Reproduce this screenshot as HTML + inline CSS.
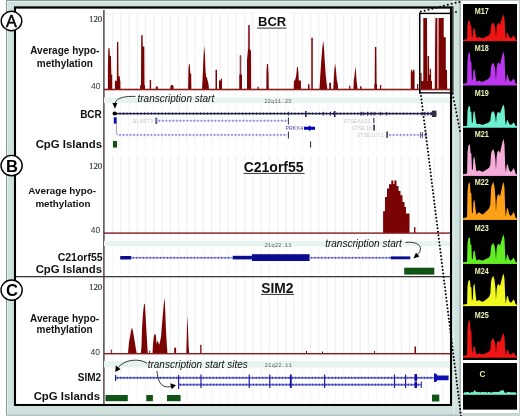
<!DOCTYPE html>
<html><head><meta charset="utf-8">
<style>
html,body{margin:0;padding:0;background:#fff;width:520px;height:416px;overflow:hidden;}
svg{display:block;filter:blur(0.35px);}
text{font-family:"Liberation Sans",sans-serif;}
.b{font-weight:bold;}
.ser{font-family:"Liberation Serif",serif;}
.mono{font-family:"Liberation Mono",monospace;}
</style></head><body>
<svg width="520" height="416" viewBox="0 0 520 416" shape-rendering="geometricPrecision">

<rect x="6" y="0" width="456" height="416" fill="#cfe1dd"/>
<rect x="6" y="0" width="1" height="416" fill="#8a9a98"/>
<rect x="6" y="0" width="456" height="1" fill="#8a9a98"/>
<rect x="7" y="1" width="455" height="1" fill="#e2f0ee"/>
<rect x="7" y="1" width="1" height="415" fill="#e2f0ee"/>
<rect x="459.2" y="0" width="1.8" height="416" fill="#a9b8b5"/>
<rect x="453.5" y="0" width="1" height="416" fill="#e2f0ec"/>
<rect x="6" y="414.4" width="456" height="1.6" fill="#b2c4c1"/>
<rect x="7" y="406" width="452" height="1" fill="#dcebe8"/>
<rect x="461" y="0" width="59" height="416" fill="#ffffff"/>
<rect x="461" y="0" width="59" height="1" fill="#b8c8c6"/>
<rect x="519" y="0" width="1" height="416" fill="#b8c8c6"/>
<rect x="461" y="413" width="59" height="3" fill="#c8d6d4"/>
<rect x="463" y="4" width="54" height="356" fill="#000"/>
<rect x="463" y="363" width="54" height="46.6" fill="#000"/>
<rect x="15" y="7.6" width="436" height="397.4" fill="#fff" stroke="#000" stroke-width="2.1"/>
<rect x="14" y="6.1" width="439.5" height="0.8" fill="#3a4846"/>
<rect x="452" y="6.5" width="1.6" height="87" fill="#34423f"/>
<rect x="112.00" y="14" width="1.2" height="76" fill="#efeff4"/>
<rect x="120.25" y="14" width="1.2" height="76" fill="#efeff4"/>
<rect x="128.50" y="14" width="1.2" height="76" fill="#efeff4"/>
<rect x="136.75" y="14" width="1.2" height="76" fill="#efeff4"/>
<rect x="145.00" y="14" width="1.2" height="76" fill="#efeff4"/>
<rect x="153.25" y="14" width="1.2" height="76" fill="#efeff4"/>
<rect x="161.50" y="14" width="1.2" height="76" fill="#efeff4"/>
<rect x="169.75" y="14" width="1.2" height="76" fill="#efeff4"/>
<rect x="178.00" y="14" width="1.2" height="76" fill="#efeff4"/>
<rect x="186.25" y="14" width="1.2" height="76" fill="#efeff4"/>
<rect x="194.50" y="14" width="1.2" height="76" fill="#efeff4"/>
<rect x="202.75" y="14" width="1.2" height="76" fill="#efeff4"/>
<rect x="211.00" y="14" width="1.2" height="76" fill="#efeff4"/>
<rect x="219.25" y="14" width="1.2" height="76" fill="#efeff4"/>
<rect x="227.50" y="14" width="1.2" height="76" fill="#efeff4"/>
<rect x="235.75" y="14" width="1.2" height="76" fill="#efeff4"/>
<rect x="244.00" y="14" width="1.2" height="76" fill="#efeff4"/>
<rect x="252.25" y="14" width="1.2" height="76" fill="#efeff4"/>
<rect x="260.50" y="14" width="1.2" height="76" fill="#efeff4"/>
<rect x="268.75" y="14" width="1.2" height="76" fill="#efeff4"/>
<rect x="277.00" y="14" width="1.2" height="76" fill="#efeff4"/>
<rect x="285.25" y="14" width="1.2" height="76" fill="#efeff4"/>
<rect x="293.50" y="14" width="1.2" height="76" fill="#efeff4"/>
<rect x="301.75" y="14" width="1.2" height="76" fill="#efeff4"/>
<rect x="310.00" y="14" width="1.2" height="76" fill="#efeff4"/>
<rect x="318.25" y="14" width="1.2" height="76" fill="#efeff4"/>
<rect x="326.50" y="14" width="1.2" height="76" fill="#efeff4"/>
<rect x="334.75" y="14" width="1.2" height="76" fill="#efeff4"/>
<rect x="343.00" y="14" width="1.2" height="76" fill="#efeff4"/>
<rect x="351.25" y="14" width="1.2" height="76" fill="#efeff4"/>
<rect x="359.50" y="14" width="1.2" height="76" fill="#efeff4"/>
<rect x="367.75" y="14" width="1.2" height="76" fill="#efeff4"/>
<rect x="376.00" y="14" width="1.2" height="76" fill="#efeff4"/>
<rect x="384.25" y="14" width="1.2" height="76" fill="#efeff4"/>
<rect x="392.50" y="14" width="1.2" height="76" fill="#efeff4"/>
<rect x="400.75" y="14" width="1.2" height="76" fill="#efeff4"/>
<rect x="409.00" y="14" width="1.2" height="76" fill="#efeff4"/>
<rect x="417.25" y="14" width="1.2" height="76" fill="#efeff4"/>
<rect x="425.50" y="14" width="1.2" height="76" fill="#efeff4"/>
<rect x="433.75" y="14" width="1.2" height="76" fill="#efeff4"/>
<rect x="442.00" y="14" width="1.2" height="76" fill="#efeff4"/>
<rect x="105" y="13" width="345" height="1" fill="#f9eeee"/>
<rect x="112.00" y="90" width="1.2" height="60" fill="#f6f6f8"/>
<rect x="120.25" y="90" width="1.2" height="60" fill="#f6f6f8"/>
<rect x="128.50" y="90" width="1.2" height="60" fill="#f6f6f8"/>
<rect x="136.75" y="90" width="1.2" height="60" fill="#f6f6f8"/>
<rect x="145.00" y="90" width="1.2" height="60" fill="#f6f6f8"/>
<rect x="153.25" y="90" width="1.2" height="60" fill="#f6f6f8"/>
<rect x="161.50" y="90" width="1.2" height="60" fill="#f6f6f8"/>
<rect x="169.75" y="90" width="1.2" height="60" fill="#f6f6f8"/>
<rect x="178.00" y="90" width="1.2" height="60" fill="#f6f6f8"/>
<rect x="186.25" y="90" width="1.2" height="60" fill="#f6f6f8"/>
<rect x="194.50" y="90" width="1.2" height="60" fill="#f6f6f8"/>
<rect x="202.75" y="90" width="1.2" height="60" fill="#f6f6f8"/>
<rect x="211.00" y="90" width="1.2" height="60" fill="#f6f6f8"/>
<rect x="219.25" y="90" width="1.2" height="60" fill="#f6f6f8"/>
<rect x="227.50" y="90" width="1.2" height="60" fill="#f6f6f8"/>
<rect x="235.75" y="90" width="1.2" height="60" fill="#f6f6f8"/>
<rect x="244.00" y="90" width="1.2" height="60" fill="#f6f6f8"/>
<rect x="252.25" y="90" width="1.2" height="60" fill="#f6f6f8"/>
<rect x="260.50" y="90" width="1.2" height="60" fill="#f6f6f8"/>
<rect x="268.75" y="90" width="1.2" height="60" fill="#f6f6f8"/>
<rect x="277.00" y="90" width="1.2" height="60" fill="#f6f6f8"/>
<rect x="285.25" y="90" width="1.2" height="60" fill="#f6f6f8"/>
<rect x="293.50" y="90" width="1.2" height="60" fill="#f6f6f8"/>
<rect x="301.75" y="90" width="1.2" height="60" fill="#f6f6f8"/>
<rect x="310.00" y="90" width="1.2" height="60" fill="#f6f6f8"/>
<rect x="318.25" y="90" width="1.2" height="60" fill="#f6f6f8"/>
<rect x="326.50" y="90" width="1.2" height="60" fill="#f6f6f8"/>
<rect x="334.75" y="90" width="1.2" height="60" fill="#f6f6f8"/>
<rect x="343.00" y="90" width="1.2" height="60" fill="#f6f6f8"/>
<rect x="351.25" y="90" width="1.2" height="60" fill="#f6f6f8"/>
<rect x="359.50" y="90" width="1.2" height="60" fill="#f6f6f8"/>
<rect x="367.75" y="90" width="1.2" height="60" fill="#f6f6f8"/>
<rect x="376.00" y="90" width="1.2" height="60" fill="#f6f6f8"/>
<rect x="384.25" y="90" width="1.2" height="60" fill="#f6f6f8"/>
<rect x="392.50" y="90" width="1.2" height="60" fill="#f6f6f8"/>
<rect x="400.75" y="90" width="1.2" height="60" fill="#f6f6f8"/>
<rect x="409.00" y="90" width="1.2" height="60" fill="#f6f6f8"/>
<rect x="417.25" y="90" width="1.2" height="60" fill="#f6f6f8"/>
<rect x="425.50" y="90" width="1.2" height="60" fill="#f6f6f8"/>
<rect x="433.75" y="90" width="1.2" height="60" fill="#f6f6f8"/>
<rect x="442.00" y="90" width="1.2" height="60" fill="#f6f6f8"/>
<rect x="112.00" y="155" width="1.2" height="79" fill="#efeff4"/>
<rect x="120.25" y="155" width="1.2" height="79" fill="#efeff4"/>
<rect x="128.50" y="155" width="1.2" height="79" fill="#efeff4"/>
<rect x="136.75" y="155" width="1.2" height="79" fill="#efeff4"/>
<rect x="145.00" y="155" width="1.2" height="79" fill="#efeff4"/>
<rect x="153.25" y="155" width="1.2" height="79" fill="#efeff4"/>
<rect x="161.50" y="155" width="1.2" height="79" fill="#efeff4"/>
<rect x="169.75" y="155" width="1.2" height="79" fill="#efeff4"/>
<rect x="178.00" y="155" width="1.2" height="79" fill="#efeff4"/>
<rect x="186.25" y="155" width="1.2" height="79" fill="#efeff4"/>
<rect x="194.50" y="155" width="1.2" height="79" fill="#efeff4"/>
<rect x="202.75" y="155" width="1.2" height="79" fill="#efeff4"/>
<rect x="211.00" y="155" width="1.2" height="79" fill="#efeff4"/>
<rect x="219.25" y="155" width="1.2" height="79" fill="#efeff4"/>
<rect x="227.50" y="155" width="1.2" height="79" fill="#efeff4"/>
<rect x="235.75" y="155" width="1.2" height="79" fill="#efeff4"/>
<rect x="244.00" y="155" width="1.2" height="79" fill="#efeff4"/>
<rect x="252.25" y="155" width="1.2" height="79" fill="#efeff4"/>
<rect x="260.50" y="155" width="1.2" height="79" fill="#efeff4"/>
<rect x="268.75" y="155" width="1.2" height="79" fill="#efeff4"/>
<rect x="277.00" y="155" width="1.2" height="79" fill="#efeff4"/>
<rect x="285.25" y="155" width="1.2" height="79" fill="#efeff4"/>
<rect x="293.50" y="155" width="1.2" height="79" fill="#efeff4"/>
<rect x="301.75" y="155" width="1.2" height="79" fill="#efeff4"/>
<rect x="310.00" y="155" width="1.2" height="79" fill="#efeff4"/>
<rect x="318.25" y="155" width="1.2" height="79" fill="#efeff4"/>
<rect x="326.50" y="155" width="1.2" height="79" fill="#efeff4"/>
<rect x="334.75" y="155" width="1.2" height="79" fill="#efeff4"/>
<rect x="343.00" y="155" width="1.2" height="79" fill="#efeff4"/>
<rect x="351.25" y="155" width="1.2" height="79" fill="#efeff4"/>
<rect x="359.50" y="155" width="1.2" height="79" fill="#efeff4"/>
<rect x="367.75" y="155" width="1.2" height="79" fill="#efeff4"/>
<rect x="376.00" y="155" width="1.2" height="79" fill="#efeff4"/>
<rect x="384.25" y="155" width="1.2" height="79" fill="#efeff4"/>
<rect x="392.50" y="155" width="1.2" height="79" fill="#efeff4"/>
<rect x="400.75" y="155" width="1.2" height="79" fill="#efeff4"/>
<rect x="409.00" y="155" width="1.2" height="79" fill="#efeff4"/>
<rect x="417.25" y="155" width="1.2" height="79" fill="#efeff4"/>
<rect x="425.50" y="155" width="1.2" height="79" fill="#efeff4"/>
<rect x="433.75" y="155" width="1.2" height="79" fill="#efeff4"/>
<rect x="442.00" y="155" width="1.2" height="79" fill="#efeff4"/>
<rect x="112.00" y="234" width="1.2" height="41" fill="#f6f6f8"/>
<rect x="120.25" y="234" width="1.2" height="41" fill="#f6f6f8"/>
<rect x="128.50" y="234" width="1.2" height="41" fill="#f6f6f8"/>
<rect x="136.75" y="234" width="1.2" height="41" fill="#f6f6f8"/>
<rect x="145.00" y="234" width="1.2" height="41" fill="#f6f6f8"/>
<rect x="153.25" y="234" width="1.2" height="41" fill="#f6f6f8"/>
<rect x="161.50" y="234" width="1.2" height="41" fill="#f6f6f8"/>
<rect x="169.75" y="234" width="1.2" height="41" fill="#f6f6f8"/>
<rect x="178.00" y="234" width="1.2" height="41" fill="#f6f6f8"/>
<rect x="186.25" y="234" width="1.2" height="41" fill="#f6f6f8"/>
<rect x="194.50" y="234" width="1.2" height="41" fill="#f6f6f8"/>
<rect x="202.75" y="234" width="1.2" height="41" fill="#f6f6f8"/>
<rect x="211.00" y="234" width="1.2" height="41" fill="#f6f6f8"/>
<rect x="219.25" y="234" width="1.2" height="41" fill="#f6f6f8"/>
<rect x="227.50" y="234" width="1.2" height="41" fill="#f6f6f8"/>
<rect x="235.75" y="234" width="1.2" height="41" fill="#f6f6f8"/>
<rect x="244.00" y="234" width="1.2" height="41" fill="#f6f6f8"/>
<rect x="252.25" y="234" width="1.2" height="41" fill="#f6f6f8"/>
<rect x="260.50" y="234" width="1.2" height="41" fill="#f6f6f8"/>
<rect x="268.75" y="234" width="1.2" height="41" fill="#f6f6f8"/>
<rect x="277.00" y="234" width="1.2" height="41" fill="#f6f6f8"/>
<rect x="285.25" y="234" width="1.2" height="41" fill="#f6f6f8"/>
<rect x="293.50" y="234" width="1.2" height="41" fill="#f6f6f8"/>
<rect x="301.75" y="234" width="1.2" height="41" fill="#f6f6f8"/>
<rect x="310.00" y="234" width="1.2" height="41" fill="#f6f6f8"/>
<rect x="318.25" y="234" width="1.2" height="41" fill="#f6f6f8"/>
<rect x="326.50" y="234" width="1.2" height="41" fill="#f6f6f8"/>
<rect x="334.75" y="234" width="1.2" height="41" fill="#f6f6f8"/>
<rect x="343.00" y="234" width="1.2" height="41" fill="#f6f6f8"/>
<rect x="351.25" y="234" width="1.2" height="41" fill="#f6f6f8"/>
<rect x="359.50" y="234" width="1.2" height="41" fill="#f6f6f8"/>
<rect x="367.75" y="234" width="1.2" height="41" fill="#f6f6f8"/>
<rect x="376.00" y="234" width="1.2" height="41" fill="#f6f6f8"/>
<rect x="384.25" y="234" width="1.2" height="41" fill="#f6f6f8"/>
<rect x="392.50" y="234" width="1.2" height="41" fill="#f6f6f8"/>
<rect x="400.75" y="234" width="1.2" height="41" fill="#f6f6f8"/>
<rect x="409.00" y="234" width="1.2" height="41" fill="#f6f6f8"/>
<rect x="417.25" y="234" width="1.2" height="41" fill="#f6f6f8"/>
<rect x="425.50" y="234" width="1.2" height="41" fill="#f6f6f8"/>
<rect x="433.75" y="234" width="1.2" height="41" fill="#f6f6f8"/>
<rect x="442.00" y="234" width="1.2" height="41" fill="#f6f6f8"/>
<rect x="112.00" y="278" width="1.2" height="76" fill="#efeff4"/>
<rect x="120.25" y="278" width="1.2" height="76" fill="#efeff4"/>
<rect x="128.50" y="278" width="1.2" height="76" fill="#efeff4"/>
<rect x="136.75" y="278" width="1.2" height="76" fill="#efeff4"/>
<rect x="145.00" y="278" width="1.2" height="76" fill="#efeff4"/>
<rect x="153.25" y="278" width="1.2" height="76" fill="#efeff4"/>
<rect x="161.50" y="278" width="1.2" height="76" fill="#efeff4"/>
<rect x="169.75" y="278" width="1.2" height="76" fill="#efeff4"/>
<rect x="178.00" y="278" width="1.2" height="76" fill="#efeff4"/>
<rect x="186.25" y="278" width="1.2" height="76" fill="#efeff4"/>
<rect x="194.50" y="278" width="1.2" height="76" fill="#efeff4"/>
<rect x="202.75" y="278" width="1.2" height="76" fill="#efeff4"/>
<rect x="211.00" y="278" width="1.2" height="76" fill="#efeff4"/>
<rect x="219.25" y="278" width="1.2" height="76" fill="#efeff4"/>
<rect x="227.50" y="278" width="1.2" height="76" fill="#efeff4"/>
<rect x="235.75" y="278" width="1.2" height="76" fill="#efeff4"/>
<rect x="244.00" y="278" width="1.2" height="76" fill="#efeff4"/>
<rect x="252.25" y="278" width="1.2" height="76" fill="#efeff4"/>
<rect x="260.50" y="278" width="1.2" height="76" fill="#efeff4"/>
<rect x="268.75" y="278" width="1.2" height="76" fill="#efeff4"/>
<rect x="277.00" y="278" width="1.2" height="76" fill="#efeff4"/>
<rect x="285.25" y="278" width="1.2" height="76" fill="#efeff4"/>
<rect x="293.50" y="278" width="1.2" height="76" fill="#efeff4"/>
<rect x="301.75" y="278" width="1.2" height="76" fill="#efeff4"/>
<rect x="310.00" y="278" width="1.2" height="76" fill="#efeff4"/>
<rect x="318.25" y="278" width="1.2" height="76" fill="#efeff4"/>
<rect x="326.50" y="278" width="1.2" height="76" fill="#efeff4"/>
<rect x="334.75" y="278" width="1.2" height="76" fill="#efeff4"/>
<rect x="343.00" y="278" width="1.2" height="76" fill="#efeff4"/>
<rect x="351.25" y="278" width="1.2" height="76" fill="#efeff4"/>
<rect x="359.50" y="278" width="1.2" height="76" fill="#efeff4"/>
<rect x="367.75" y="278" width="1.2" height="76" fill="#efeff4"/>
<rect x="376.00" y="278" width="1.2" height="76" fill="#efeff4"/>
<rect x="384.25" y="278" width="1.2" height="76" fill="#efeff4"/>
<rect x="392.50" y="278" width="1.2" height="76" fill="#efeff4"/>
<rect x="400.75" y="278" width="1.2" height="76" fill="#efeff4"/>
<rect x="409.00" y="278" width="1.2" height="76" fill="#efeff4"/>
<rect x="417.25" y="278" width="1.2" height="76" fill="#efeff4"/>
<rect x="425.50" y="278" width="1.2" height="76" fill="#efeff4"/>
<rect x="433.75" y="278" width="1.2" height="76" fill="#efeff4"/>
<rect x="442.00" y="278" width="1.2" height="76" fill="#efeff4"/>
<rect x="112.00" y="354" width="1.2" height="49" fill="#f6f6f8"/>
<rect x="120.25" y="354" width="1.2" height="49" fill="#f6f6f8"/>
<rect x="128.50" y="354" width="1.2" height="49" fill="#f6f6f8"/>
<rect x="136.75" y="354" width="1.2" height="49" fill="#f6f6f8"/>
<rect x="145.00" y="354" width="1.2" height="49" fill="#f6f6f8"/>
<rect x="153.25" y="354" width="1.2" height="49" fill="#f6f6f8"/>
<rect x="161.50" y="354" width="1.2" height="49" fill="#f6f6f8"/>
<rect x="169.75" y="354" width="1.2" height="49" fill="#f6f6f8"/>
<rect x="178.00" y="354" width="1.2" height="49" fill="#f6f6f8"/>
<rect x="186.25" y="354" width="1.2" height="49" fill="#f6f6f8"/>
<rect x="194.50" y="354" width="1.2" height="49" fill="#f6f6f8"/>
<rect x="202.75" y="354" width="1.2" height="49" fill="#f6f6f8"/>
<rect x="211.00" y="354" width="1.2" height="49" fill="#f6f6f8"/>
<rect x="219.25" y="354" width="1.2" height="49" fill="#f6f6f8"/>
<rect x="227.50" y="354" width="1.2" height="49" fill="#f6f6f8"/>
<rect x="235.75" y="354" width="1.2" height="49" fill="#f6f6f8"/>
<rect x="244.00" y="354" width="1.2" height="49" fill="#f6f6f8"/>
<rect x="252.25" y="354" width="1.2" height="49" fill="#f6f6f8"/>
<rect x="260.50" y="354" width="1.2" height="49" fill="#f6f6f8"/>
<rect x="268.75" y="354" width="1.2" height="49" fill="#f6f6f8"/>
<rect x="277.00" y="354" width="1.2" height="49" fill="#f6f6f8"/>
<rect x="285.25" y="354" width="1.2" height="49" fill="#f6f6f8"/>
<rect x="293.50" y="354" width="1.2" height="49" fill="#f6f6f8"/>
<rect x="301.75" y="354" width="1.2" height="49" fill="#f6f6f8"/>
<rect x="310.00" y="354" width="1.2" height="49" fill="#f6f6f8"/>
<rect x="318.25" y="354" width="1.2" height="49" fill="#f6f6f8"/>
<rect x="326.50" y="354" width="1.2" height="49" fill="#f6f6f8"/>
<rect x="334.75" y="354" width="1.2" height="49" fill="#f6f6f8"/>
<rect x="343.00" y="354" width="1.2" height="49" fill="#f6f6f8"/>
<rect x="351.25" y="354" width="1.2" height="49" fill="#f6f6f8"/>
<rect x="359.50" y="354" width="1.2" height="49" fill="#f6f6f8"/>
<rect x="367.75" y="354" width="1.2" height="49" fill="#f6f6f8"/>
<rect x="376.00" y="354" width="1.2" height="49" fill="#f6f6f8"/>
<rect x="384.25" y="354" width="1.2" height="49" fill="#f6f6f8"/>
<rect x="392.50" y="354" width="1.2" height="49" fill="#f6f6f8"/>
<rect x="400.75" y="354" width="1.2" height="49" fill="#f6f6f8"/>
<rect x="409.00" y="354" width="1.2" height="49" fill="#f6f6f8"/>
<rect x="417.25" y="354" width="1.2" height="49" fill="#f6f6f8"/>
<rect x="425.50" y="354" width="1.2" height="49" fill="#f6f6f8"/>
<rect x="433.75" y="354" width="1.2" height="49" fill="#f6f6f8"/>
<rect x="442.00" y="354" width="1.2" height="49" fill="#f6f6f8"/>
<rect x="16" y="276.0" width="434" height="1.3" fill="#383838"/>
<rect x="103.2" y="10" width="1.4" height="394" fill="#4a3840"/>
<polygon points="107.9,89.3 107.9,68.8 108.3,48.5 109.5,47.9 109.9,56 111,56 111.2,68.8 111.4,74.8 112.2,74.8 112.2,89.3" fill="#7a0404"/>
<polygon points="114.9,89.3 114.9,80.7 116.8,80.7 117,42 118.3,42 118.5,76.3 119.8,76.3 120,80.7 120.4,80.7 120.4,89.3" fill="#7a0404"/>
<polygon points="140.1,89.3 140.1,85.2 141,85.2 141.2,35.2 142.6,35.2 142.8,46.4 144.3,46.4 144.5,85.2 145,85.2 145,89.3" fill="#7a0404"/>
<polygon points="149.7,89.3 149.7,79.9 151.1,79.9 151.1,89.3" fill="#7a0404"/>
<polygon points="155.7,89.3 155.7,86.5 157.8,86.5 157.8,89.3" fill="#7a0404"/>
<polygon points="170.1,89.3 170.5,86 171.5,85 172.8,85 173.5,86.5 173.6,89.3" fill="#7a0404"/>
<polygon points="188.1,89.3 188.4,70 188.9,64.2 189.8,64.2 190.3,73.2 191.2,74 191.4,89.3" fill="#7a0404"/>
<polygon points="202,89.3 202.5,80 203.3,62 204.1,45.6 205,55 205.5,70 206.1,77 206.7,77 207.5,80 208.5,84 209,89.3" fill="#7a0404"/>
<polygon points="215.5,89.3 215.5,69.8 217,69.8 217,89.3" fill="#7a0404"/>
<polygon points="219,89.3 219,80.5 220.5,80.5 221,78.8 222,78.8 222,89.3" fill="#7a0404"/>
<polygon points="239.8,89.3 239.8,55.5 241.2,55.5 241.2,89.3" fill="#7a0404"/>
<polygon points="239.3,89.3 239.3,74.5 242,74.5 242,89.3" fill="#7a0404"/>
<polygon points="247,89.3 247,60 247.9,50.3 248,25.2 249.8,25.2 250,50.3 251,50.3 251.2,89.3" fill="#7a0404"/>
<polygon points="257.5,89.3 257.5,86.8 258.7,86.8 258.7,89.3" fill="#7a0404"/>
<polygon points="266.3,89.3 266.5,70 267,64 268,64 268.6,75 268.8,89.3" fill="#7a0404"/>
<polygon points="293.7,89.3 293.9,80.6 295,80.6 296.3,75 297,67 297.8,66.9 298.4,72 298.8,80.6 300.9,80.6 301,89.3" fill="#7a0404"/>
<polygon points="308,89.3 308,84.3 309.5,84.3 309.5,89.3" fill="#7a0404"/>
<polygon points="311.3,89.3 311.3,37.7 312.8,37.7 312.8,89.3" fill="#7a0404"/>
<polygon points="319.5,89.3 320.3,75 321.3,60 322.3,48 323.2,40.4 324,48 324.8,62 325.8,76 326.8,85 327.3,89.3" fill="#7a0404"/>
<polygon points="329.2,89.3 329.2,82.8 331,82.8 331,89.3" fill="#7a0404"/>
<polygon points="333.3,89.3 333.8,78 334.5,68 335.1,63.5 336,70 336.8,80 337.8,84 338,89.3" fill="#7a0404"/>
<polygon points="349.2,89.3 349.2,85.8 350.4,85.8 350.4,89.3" fill="#7a0404"/>
<polygon points="353.4,89.3 353.8,80 354.5,76 355.4,66.2 356,72 356.5,80 357.2,86 357.5,89.3" fill="#7a0404"/>
<polygon points="360.1,89.3 360.1,86.3 361.5,86.3 361.5,89.3" fill="#7a0404"/>
<polygon points="374.3,89.3 374.3,84.3 374.7,84 374.9,47.1 376.3,47.1 376.6,84 377,84.3 377,89.3" fill="#7a0404"/>
<polygon points="380,89.3 380,85 381.2,85 381.2,89.3" fill="#7a0404"/>
<polygon points="410.8,89.3 410.8,72 411.3,69.7 412.2,69.7 412.6,73 413.3,69.7 414.3,69.7 414.6,72 414.6,89.3" fill="#7a0404"/>
<polygon points="417,89.3 417,84 418.2,84 418.2,89.3" fill="#7a0404"/>
<polygon points="420.4,89.3 420.4,73 421.6,73 421.6,89.3" fill="#7a0404"/>
<polygon points="421.0,89.3 421.0,81 423.3,81 423.3,18 427,18 427.2,81 427.6,81 427.6,56 429,56 429.2,75 429.8,75 429.8,68.7 431,68.7 431.2,81 432,81 432,89.3" fill="#7a0404"/>
<polygon points="434.8,89.3 435.2,30 435.4,18 437.4,18 437.4,89.3" fill="#7a0404"/>
<polygon points="438.5,89.3 438.5,18 443.7,18 443.7,37.3 445.8,37.3 445.8,70 447,70 447.2,89.3" fill="#7a0404"/>
<rect x="239.9" y="55.5" width="1.2" height="19" fill="#8e3e48"/>
<rect x="248.2" y="25.2" width="1.5" height="24" fill="#a24856"/>
<rect x="311.5" y="37.7" width="0.6" height="50" fill="#9a3c48"/>
<rect x="104" y="88.7" width="346" height="1.6" fill="#8a1c1c"/>
<rect x="419" y="12.7" width="31.5" height="1.4" fill="#000"/>
<rect x="419" y="12.7" width="1.5" height="80.8" fill="#000"/>
<rect x="419" y="92.2" width="31.5" height="1.3" fill="#000"/>
<rect x="104" y="97.5" width="346" height="5.5" fill="#e6f3ef"/>
<text x="264.2" y="103.3" class="mono" font-size="5.7" fill="#666">22q11.23</text>
<polygon points="383.1,233.1 383.1,211.2 385,211.2 385,196.9 387,196.9 387,188.5 389,188.5 389,184.3 391.3,184.3 391.3,180.4 393.3,180.4 393.3,184 394.4,184 394.4,180.4 396.5,180.4 396.5,186 398.5,186 398.5,191 400.5,191 400.5,195.2 402.5,195.2 402.5,202 404.5,202 404.5,207 406,207 406,213.4 409.5,213.4 409.5,233.1" fill="#7a0404"/>
<rect x="414" y="227.1" width="1.40" height="6.00" fill="#7a0404"/>
<rect x="104" y="232.4" width="346" height="1.4" fill="#8a1a20"/>
<rect x="104" y="241" width="346" height="5" fill="#e6f3ef"/>
<text x="264.4" y="246.7" class="mono" font-size="5.7" fill="#666">21q22.11</text>
<polygon points="128,353.5 129,342 130,337 130.9,331.3 131.9,327.5 132.8,330.4 133.8,336 134.8,342 135.7,347.7 136.7,353.5" fill="#7a0404"/>
<polygon points="140.9,353.5 141.5,345.8 142,328.5 143,313 144,304.4 144.8,303.5 145.3,311 146.3,328.5 147.3,345.8 147.8,353.5" fill="#7a0404"/>
<polygon points="152.5,353.5 153,343.8 154,335.2 155,333.8 156,336 156.5,343.8 157.3,341 158.2,342 159.2,344.8 160.2,341 161.1,336 162,324.6 163,313 164,301.5 164.6,298 165.2,309 165.9,328.5 166.9,345.8 167.5,353.5" fill="#7a0404"/>
<polygon points="186.3,353.5 186.9,330.4 187.5,315 188,328.5 188.6,345.8 189.2,353.5" fill="#7a0404"/>
<rect x="110.8" y="349.6" width="1.00" height="4.00" fill="#7a0404"/>
<rect x="149.2" y="350.6" width="1.00" height="3.00" fill="#7a0404"/>
<rect x="174.2" y="347.7" width="1.90" height="5.90" fill="#7a0404"/>
<rect x="200.2" y="344.8" width="1.30" height="8.80" fill="#7a0404"/>
<rect x="306" y="351" width="1.00" height="2.60" fill="#7a0404"/>
<rect x="322" y="351.5" width="1.00" height="2.10" fill="#7a0404"/>
<rect x="374" y="351" width="1.00" height="2.60" fill="#7a0404"/>
<rect x="414.5" y="346.5" width="1.50" height="7.10" fill="#7a0404"/>
<rect x="104" y="353.0" width="346" height="1.4" fill="#8a1c1c"/>
<rect x="104" y="361" width="346" height="6.5" fill="#e6f3ef"/>
<text x="264.6" y="366.7" class="mono" font-size="5.7" fill="#666">21q22.11</text>
<rect x="114.5" y="112.85" width="322.00" height="1.5" fill="#26264e"/>
<path d="M115.50,113.60L116.50,112.20L117.50,113.60L116.50,115.00Z M119.00,113.60L120.00,112.20L121.00,113.60L120.00,115.00Z M122.50,113.60L123.50,112.20L124.50,113.60L123.50,115.00Z M126.00,113.60L127.00,112.20L128.00,113.60L127.00,115.00Z M129.50,113.60L130.50,112.20L131.50,113.60L130.50,115.00Z M133.00,113.60L134.00,112.20L135.00,113.60L134.00,115.00Z M136.50,113.60L137.50,112.20L138.50,113.60L137.50,115.00Z M140.00,113.60L141.00,112.20L142.00,113.60L141.00,115.00Z M143.50,113.60L144.50,112.20L145.50,113.60L144.50,115.00Z M147.00,113.60L148.00,112.20L149.00,113.60L148.00,115.00Z M150.50,113.60L151.50,112.20L152.50,113.60L151.50,115.00Z M154.00,113.60L155.00,112.20L156.00,113.60L155.00,115.00Z M157.50,113.60L158.50,112.20L159.50,113.60L158.50,115.00Z M161.00,113.60L162.00,112.20L163.00,113.60L162.00,115.00Z M164.50,113.60L165.50,112.20L166.50,113.60L165.50,115.00Z M168.00,113.60L169.00,112.20L170.00,113.60L169.00,115.00Z M171.50,113.60L172.50,112.20L173.50,113.60L172.50,115.00Z M175.00,113.60L176.00,112.20L177.00,113.60L176.00,115.00Z M178.50,113.60L179.50,112.20L180.50,113.60L179.50,115.00Z M182.00,113.60L183.00,112.20L184.00,113.60L183.00,115.00Z M185.50,113.60L186.50,112.20L187.50,113.60L186.50,115.00Z M189.00,113.60L190.00,112.20L191.00,113.60L190.00,115.00Z M192.50,113.60L193.50,112.20L194.50,113.60L193.50,115.00Z M196.00,113.60L197.00,112.20L198.00,113.60L197.00,115.00Z M199.50,113.60L200.50,112.20L201.50,113.60L200.50,115.00Z M203.00,113.60L204.00,112.20L205.00,113.60L204.00,115.00Z M206.50,113.60L207.50,112.20L208.50,113.60L207.50,115.00Z M210.00,113.60L211.00,112.20L212.00,113.60L211.00,115.00Z M213.50,113.60L214.50,112.20L215.50,113.60L214.50,115.00Z M217.00,113.60L218.00,112.20L219.00,113.60L218.00,115.00Z M220.50,113.60L221.50,112.20L222.50,113.60L221.50,115.00Z M224.00,113.60L225.00,112.20L226.00,113.60L225.00,115.00Z M227.50,113.60L228.50,112.20L229.50,113.60L228.50,115.00Z M231.00,113.60L232.00,112.20L233.00,113.60L232.00,115.00Z M234.50,113.60L235.50,112.20L236.50,113.60L235.50,115.00Z M238.00,113.60L239.00,112.20L240.00,113.60L239.00,115.00Z M241.50,113.60L242.50,112.20L243.50,113.60L242.50,115.00Z M245.00,113.60L246.00,112.20L247.00,113.60L246.00,115.00Z M248.50,113.60L249.50,112.20L250.50,113.60L249.50,115.00Z M252.00,113.60L253.00,112.20L254.00,113.60L253.00,115.00Z M255.50,113.60L256.50,112.20L257.50,113.60L256.50,115.00Z M259.00,113.60L260.00,112.20L261.00,113.60L260.00,115.00Z M262.50,113.60L263.50,112.20L264.50,113.60L263.50,115.00Z M266.00,113.60L267.00,112.20L268.00,113.60L267.00,115.00Z M269.50,113.60L270.50,112.20L271.50,113.60L270.50,115.00Z M273.00,113.60L274.00,112.20L275.00,113.60L274.00,115.00Z M276.50,113.60L277.50,112.20L278.50,113.60L277.50,115.00Z M280.00,113.60L281.00,112.20L282.00,113.60L281.00,115.00Z M283.50,113.60L284.50,112.20L285.50,113.60L284.50,115.00Z M287.00,113.60L288.00,112.20L289.00,113.60L288.00,115.00Z M290.50,113.60L291.50,112.20L292.50,113.60L291.50,115.00Z M294.00,113.60L295.00,112.20L296.00,113.60L295.00,115.00Z M297.50,113.60L298.50,112.20L299.50,113.60L298.50,115.00Z M301.00,113.60L302.00,112.20L303.00,113.60L302.00,115.00Z M304.50,113.60L305.50,112.20L306.50,113.60L305.50,115.00Z M308.00,113.60L309.00,112.20L310.00,113.60L309.00,115.00Z M311.50,113.60L312.50,112.20L313.50,113.60L312.50,115.00Z M315.00,113.60L316.00,112.20L317.00,113.60L316.00,115.00Z M318.50,113.60L319.50,112.20L320.50,113.60L319.50,115.00Z M322.00,113.60L323.00,112.20L324.00,113.60L323.00,115.00Z M325.50,113.60L326.50,112.20L327.50,113.60L326.50,115.00Z M329.00,113.60L330.00,112.20L331.00,113.60L330.00,115.00Z M332.50,113.60L333.50,112.20L334.50,113.60L333.50,115.00Z M336.00,113.60L337.00,112.20L338.00,113.60L337.00,115.00Z M339.50,113.60L340.50,112.20L341.50,113.60L340.50,115.00Z M343.00,113.60L344.00,112.20L345.00,113.60L344.00,115.00Z M346.50,113.60L347.50,112.20L348.50,113.60L347.50,115.00Z M350.00,113.60L351.00,112.20L352.00,113.60L351.00,115.00Z M353.50,113.60L354.50,112.20L355.50,113.60L354.50,115.00Z M357.00,113.60L358.00,112.20L359.00,113.60L358.00,115.00Z M360.50,113.60L361.50,112.20L362.50,113.60L361.50,115.00Z M364.00,113.60L365.00,112.20L366.00,113.60L365.00,115.00Z M367.50,113.60L368.50,112.20L369.50,113.60L368.50,115.00Z M371.00,113.60L372.00,112.20L373.00,113.60L372.00,115.00Z M374.50,113.60L375.50,112.20L376.50,113.60L375.50,115.00Z M378.00,113.60L379.00,112.20L380.00,113.60L379.00,115.00Z M381.50,113.60L382.50,112.20L383.50,113.60L382.50,115.00Z M385.00,113.60L386.00,112.20L387.00,113.60L386.00,115.00Z M388.50,113.60L389.50,112.20L390.50,113.60L389.50,115.00Z M392.00,113.60L393.00,112.20L394.00,113.60L393.00,115.00Z M395.50,113.60L396.50,112.20L397.50,113.60L396.50,115.00Z M399.00,113.60L400.00,112.20L401.00,113.60L400.00,115.00Z M402.50,113.60L403.50,112.20L404.50,113.60L403.50,115.00Z M406.00,113.60L407.00,112.20L408.00,113.60L407.00,115.00Z M409.50,113.60L410.50,112.20L411.50,113.60L410.50,115.00Z M413.00,113.60L414.00,112.20L415.00,113.60L414.00,115.00Z M416.50,113.60L417.50,112.20L418.50,113.60L417.50,115.00Z M420.00,113.60L421.00,112.20L422.00,113.60L421.00,115.00Z M423.50,113.60L424.50,112.20L425.50,113.60L424.50,115.00Z M427.00,113.60L428.00,112.20L429.00,113.60L428.00,115.00Z M430.50,113.60L431.50,112.20L432.50,113.60L431.50,115.00Z M434.00,113.60L435.00,112.20L436.00,113.60L435.00,115.00Z" fill="#1a1a40"/>
<circle cx="114.6" cy="113.6" r="2" fill="#000"/>
<rect x="287.90" y="111.8" width="1.0" height="3.80" fill="#20205a"/>
<rect x="322.80" y="111.8" width="1.0" height="3.80" fill="#20205a"/>
<rect x="330.00" y="111.8" width="1.0" height="3.80" fill="#20205a"/>
<rect x="360.30" y="111.8" width="1.0" height="3.80" fill="#20205a"/>
<rect x="362.70" y="111.8" width="1.0" height="3.80" fill="#20205a"/>
<rect x="367.00" y="111.8" width="1.0" height="3.80" fill="#20205a"/>
<rect x="370.50" y="111.8" width="1.0" height="3.80" fill="#20205a"/>
<rect x="373.50" y="111.8" width="1.0" height="3.80" fill="#20205a"/>
<rect x="380.20" y="111.8" width="1.0" height="3.80" fill="#20205a"/>
<rect x="386.20" y="111.8" width="1.0" height="3.80" fill="#20205a"/>
<rect x="421.50" y="111.8" width="1.0" height="3.80" fill="#20205a"/>
<rect x="424.50" y="111.8" width="1.0" height="3.80" fill="#20205a"/>
<rect x="427.50" y="111.8" width="1.0" height="3.80" fill="#20205a"/>
<rect x="430.50" y="111.8" width="1.0" height="3.80" fill="#20205a"/>
<rect x="305.00" y="111" width="1.6" height="6.00" fill="#20205a"/>
<rect x="333.90" y="111" width="1.6" height="6.00" fill="#20205a"/>
<rect x="432" y="110.6" width="4.40" height="6.40" fill="#303040"/>
<rect x="113.8" y="117.3" width="2.90" height="6.40" fill="#1010a8"/>
<path d="M116.4,124 L116.4,133.5 Q116.4,135 118,135" stroke="#888" stroke-width="0.8" fill="none"/>
<text x="133" y="123.2" class="mono" font-size="5.6" fill="#c8c8d8">BLAST3</text>
<rect x="155.2" y="117.6" width="2.20" height="6.40" fill="#6a6a9a"/>
<rect x="157.4" y="120.40" width="131.00" height="0.8" fill="#c8c8f0"/>
<path d="M158.40,120.80L159.40,119.30L160.40,120.80L159.40,122.30Z M161.90,120.80L162.90,119.30L163.90,120.80L162.90,122.30Z M165.40,120.80L166.40,119.30L167.40,120.80L166.40,122.30Z M168.90,120.80L169.90,119.30L170.90,120.80L169.90,122.30Z M172.40,120.80L173.40,119.30L174.40,120.80L173.40,122.30Z M175.90,120.80L176.90,119.30L177.90,120.80L176.90,122.30Z M179.40,120.80L180.40,119.30L181.40,120.80L180.40,122.30Z M182.90,120.80L183.90,119.30L184.90,120.80L183.90,122.30Z M186.40,120.80L187.40,119.30L188.40,120.80L187.40,122.30Z M189.90,120.80L190.90,119.30L191.90,120.80L190.90,122.30Z M193.40,120.80L194.40,119.30L195.40,120.80L194.40,122.30Z M196.90,120.80L197.90,119.30L198.90,120.80L197.90,122.30Z M200.40,120.80L201.40,119.30L202.40,120.80L201.40,122.30Z M203.90,120.80L204.90,119.30L205.90,120.80L204.90,122.30Z M207.40,120.80L208.40,119.30L209.40,120.80L208.40,122.30Z M210.90,120.80L211.90,119.30L212.90,120.80L211.90,122.30Z M214.40,120.80L215.40,119.30L216.40,120.80L215.40,122.30Z M217.90,120.80L218.90,119.30L219.90,120.80L218.90,122.30Z M221.40,120.80L222.40,119.30L223.40,120.80L222.40,122.30Z M224.90,120.80L225.90,119.30L226.90,120.80L225.90,122.30Z M228.40,120.80L229.40,119.30L230.40,120.80L229.40,122.30Z M231.90,120.80L232.90,119.30L233.90,120.80L232.90,122.30Z M235.40,120.80L236.40,119.30L237.40,120.80L236.40,122.30Z M238.90,120.80L239.90,119.30L240.90,120.80L239.90,122.30Z M242.40,120.80L243.40,119.30L244.40,120.80L243.40,122.30Z M245.90,120.80L246.90,119.30L247.90,120.80L246.90,122.30Z M249.40,120.80L250.40,119.30L251.40,120.80L250.40,122.30Z M252.90,120.80L253.90,119.30L254.90,120.80L253.90,122.30Z M256.40,120.80L257.40,119.30L258.40,120.80L257.40,122.30Z M259.90,120.80L260.90,119.30L261.90,120.80L260.90,122.30Z M263.40,120.80L264.40,119.30L265.40,120.80L264.40,122.30Z M266.90,120.80L267.90,119.30L268.90,120.80L267.90,122.30Z M270.40,120.80L271.40,119.30L272.40,120.80L271.40,122.30Z M273.90,120.80L274.90,119.30L275.90,120.80L274.90,122.30Z M277.40,120.80L278.40,119.30L279.40,120.80L278.40,122.30Z M280.90,120.80L281.90,119.30L282.90,120.80L281.90,122.30Z M284.40,120.80L285.40,119.30L286.40,120.80L285.40,122.30Z" fill="#8a8ae0"/>
<rect x="287.90" y="117.5" width="1.0" height="7.00" fill="#30305a"/>
<rect x="118" y="134.50" width="170.40" height="0.8" fill="#c8c8f0"/>
<path d="M119.00,134.90L120.00,133.40L121.00,134.90L120.00,136.40Z M122.50,134.90L123.50,133.40L124.50,134.90L123.50,136.40Z M126.00,134.90L127.00,133.40L128.00,134.90L127.00,136.40Z M129.50,134.90L130.50,133.40L131.50,134.90L130.50,136.40Z M133.00,134.90L134.00,133.40L135.00,134.90L134.00,136.40Z M136.50,134.90L137.50,133.40L138.50,134.90L137.50,136.40Z M140.00,134.90L141.00,133.40L142.00,134.90L141.00,136.40Z M143.50,134.90L144.50,133.40L145.50,134.90L144.50,136.40Z M147.00,134.90L148.00,133.40L149.00,134.90L148.00,136.40Z M150.50,134.90L151.50,133.40L152.50,134.90L151.50,136.40Z M154.00,134.90L155.00,133.40L156.00,134.90L155.00,136.40Z M157.50,134.90L158.50,133.40L159.50,134.90L158.50,136.40Z M161.00,134.90L162.00,133.40L163.00,134.90L162.00,136.40Z M164.50,134.90L165.50,133.40L166.50,134.90L165.50,136.40Z M168.00,134.90L169.00,133.40L170.00,134.90L169.00,136.40Z M171.50,134.90L172.50,133.40L173.50,134.90L172.50,136.40Z M175.00,134.90L176.00,133.40L177.00,134.90L176.00,136.40Z M178.50,134.90L179.50,133.40L180.50,134.90L179.50,136.40Z M182.00,134.90L183.00,133.40L184.00,134.90L183.00,136.40Z M185.50,134.90L186.50,133.40L187.50,134.90L186.50,136.40Z M189.00,134.90L190.00,133.40L191.00,134.90L190.00,136.40Z M192.50,134.90L193.50,133.40L194.50,134.90L193.50,136.40Z M196.00,134.90L197.00,133.40L198.00,134.90L197.00,136.40Z M199.50,134.90L200.50,133.40L201.50,134.90L200.50,136.40Z M203.00,134.90L204.00,133.40L205.00,134.90L204.00,136.40Z M206.50,134.90L207.50,133.40L208.50,134.90L207.50,136.40Z M210.00,134.90L211.00,133.40L212.00,134.90L211.00,136.40Z M213.50,134.90L214.50,133.40L215.50,134.90L214.50,136.40Z M217.00,134.90L218.00,133.40L219.00,134.90L218.00,136.40Z M220.50,134.90L221.50,133.40L222.50,134.90L221.50,136.40Z M224.00,134.90L225.00,133.40L226.00,134.90L225.00,136.40Z M227.50,134.90L228.50,133.40L229.50,134.90L228.50,136.40Z M231.00,134.90L232.00,133.40L233.00,134.90L232.00,136.40Z M234.50,134.90L235.50,133.40L236.50,134.90L235.50,136.40Z M238.00,134.90L239.00,133.40L240.00,134.90L239.00,136.40Z M241.50,134.90L242.50,133.40L243.50,134.90L242.50,136.40Z M245.00,134.90L246.00,133.40L247.00,134.90L246.00,136.40Z M248.50,134.90L249.50,133.40L250.50,134.90L249.50,136.40Z M252.00,134.90L253.00,133.40L254.00,134.90L253.00,136.40Z M255.50,134.90L256.50,133.40L257.50,134.90L256.50,136.40Z M259.00,134.90L260.00,133.40L261.00,134.90L260.00,136.40Z M262.50,134.90L263.50,133.40L264.50,134.90L263.50,136.40Z M266.00,134.90L267.00,133.40L268.00,134.90L267.00,136.40Z M269.50,134.90L270.50,133.40L271.50,134.90L270.50,136.40Z M273.00,134.90L274.00,133.40L275.00,134.90L274.00,136.40Z M276.50,134.90L277.50,133.40L278.50,134.90L277.50,136.40Z M280.00,134.90L281.00,133.40L282.00,134.90L281.00,136.40Z M283.50,134.90L284.50,133.40L285.50,134.90L284.50,136.40Z" fill="#8a8ae0"/>
<rect x="287.90" y="131.5" width="1.0" height="7.00" fill="#30305a"/>
<text x="285.4" y="130.2" class="mono" font-size="6" fill="#5050c0">PRKX4</text>
<path d="M304,126.8 L308.5,126.8 L309.5,125.6 L311,126.8 L315,126.8 L315,129.8 L311,129.8 L309.5,131 L308.5,129.8 L304,129.8 Z" fill="#0000c0"/>
<rect x="310.10" y="141.5" width="1.0" height="6.00" fill="#222"/>
<text x="344" y="123" class="mono" font-size="5.6" fill="#c8c8d4">GTSEA1GI</text>
<text x="352" y="130" class="mono" font-size="5.6" fill="#c8c8d4">GTSE16</text>
<text x="357" y="137" class="mono" font-size="5.6" fill="#c8c8d4">GTSE1CT1</text>
<rect x="373.2" y="118" width="1.20" height="5.00" fill="#404050"/>
<rect x="373.1" y="124.6" width="1.90" height="6.00" fill="#505060"/>
<rect x="386.2" y="131.5" width="1.80" height="6.40" fill="#505060"/>
<rect x="388" y="134.50" width="39.00" height="0.8" fill="#c8c8f0"/>
<path d="M389.00,134.90L390.00,133.40L391.00,134.90L390.00,136.40Z M392.50,134.90L393.50,133.40L394.50,134.90L393.50,136.40Z M396.00,134.90L397.00,133.40L398.00,134.90L397.00,136.40Z M399.50,134.90L400.50,133.40L401.50,134.90L400.50,136.40Z M403.00,134.90L404.00,133.40L405.00,134.90L404.00,136.40Z M406.50,134.90L407.50,133.40L408.50,134.90L407.50,136.40Z M410.00,134.90L411.00,133.40L412.00,134.90L411.00,136.40Z M413.50,134.90L414.50,133.40L415.50,134.90L414.50,136.40Z M417.00,134.90L418.00,133.40L419.00,134.90L418.00,136.40Z M420.50,134.90L421.50,133.40L422.50,134.90L421.50,136.40Z M424.00,134.90L425.00,133.40L426.00,134.90L425.00,136.40Z" fill="#8a8ae0"/>
<rect x="420.15" y="132" width="0.9" height="6.20" fill="#505080"/>
<rect x="422.15" y="132" width="0.9" height="6.20" fill="#505080"/>
<rect x="425.55" y="132" width="0.9" height="6.20" fill="#505080"/>
<rect x="113" y="141" width="4.00" height="6.60" fill="#0f5414"/>
<text x="137.5" y="102" font-size="10" font-style="italic" fill="#111">transcription start</text>
<path d="M135.5,96.4 C126,96.2 117,97 115,103.2" stroke="#222" stroke-width="0.9" fill="none"/>
<path d="M112.4,103 L117.4,103 L115,108.8 Z" fill="#000"/>
<rect x="120.2" y="256" width="11.10" height="3.50" fill="#0c0c90"/>
<rect x="131.3" y="257.15" width="101.40" height="1.3" fill="#8a8ae0"/>
<path d="M132.40,257.80L133.30,256.50L134.20,257.80L133.30,259.10Z M135.80,257.80L136.70,256.50L137.60,257.80L136.70,259.10Z M139.20,257.80L140.10,256.50L141.00,257.80L140.10,259.10Z M142.60,257.80L143.50,256.50L144.40,257.80L143.50,259.10Z M146.00,257.80L146.90,256.50L147.80,257.80L146.90,259.10Z M149.40,257.80L150.30,256.50L151.20,257.80L150.30,259.10Z M152.80,257.80L153.70,256.50L154.60,257.80L153.70,259.10Z M156.20,257.80L157.10,256.50L158.00,257.80L157.10,259.10Z M159.60,257.80L160.50,256.50L161.40,257.80L160.50,259.10Z M163.00,257.80L163.90,256.50L164.80,257.80L163.90,259.10Z M166.40,257.80L167.30,256.50L168.20,257.80L167.30,259.10Z M169.80,257.80L170.70,256.50L171.60,257.80L170.70,259.10Z M173.20,257.80L174.10,256.50L175.00,257.80L174.10,259.10Z M176.60,257.80L177.50,256.50L178.40,257.80L177.50,259.10Z M180.00,257.80L180.90,256.50L181.80,257.80L180.90,259.10Z M183.40,257.80L184.30,256.50L185.20,257.80L184.30,259.10Z M186.80,257.80L187.70,256.50L188.60,257.80L187.70,259.10Z M190.20,257.80L191.10,256.50L192.00,257.80L191.10,259.10Z M193.60,257.80L194.50,256.50L195.40,257.80L194.50,259.10Z M197.00,257.80L197.90,256.50L198.80,257.80L197.90,259.10Z M200.40,257.80L201.30,256.50L202.20,257.80L201.30,259.10Z M203.80,257.80L204.70,256.50L205.60,257.80L204.70,259.10Z M207.20,257.80L208.10,256.50L209.00,257.80L208.10,259.10Z M210.60,257.80L211.50,256.50L212.40,257.80L211.50,259.10Z M214.00,257.80L214.90,256.50L215.80,257.80L214.90,259.10Z M217.40,257.80L218.30,256.50L219.20,257.80L218.30,259.10Z M220.80,257.80L221.70,256.50L222.60,257.80L221.70,259.10Z M224.20,257.80L225.10,256.50L226.00,257.80L225.10,259.10Z M227.60,257.80L228.50,256.50L229.40,257.80L228.50,259.10Z" fill="#5050c0"/>
<rect x="232.7" y="255.8" width="19.20" height="3.60" fill="#0c0c90"/>
<rect x="251.9" y="254.2" width="57.70" height="6.80" fill="#0c0c90"/>
<rect x="309.6" y="257.15" width="81.20" height="1.3" fill="#8a8ae0"/>
<path d="M310.70,257.80L311.60,256.50L312.50,257.80L311.60,259.10Z M314.10,257.80L315.00,256.50L315.90,257.80L315.00,259.10Z M317.50,257.80L318.40,256.50L319.30,257.80L318.40,259.10Z M320.90,257.80L321.80,256.50L322.70,257.80L321.80,259.10Z M324.30,257.80L325.20,256.50L326.10,257.80L325.20,259.10Z M327.70,257.80L328.60,256.50L329.50,257.80L328.60,259.10Z M331.10,257.80L332.00,256.50L332.90,257.80L332.00,259.10Z M334.50,257.80L335.40,256.50L336.30,257.80L335.40,259.10Z M337.90,257.80L338.80,256.50L339.70,257.80L338.80,259.10Z M341.30,257.80L342.20,256.50L343.10,257.80L342.20,259.10Z M344.70,257.80L345.60,256.50L346.50,257.80L345.60,259.10Z M348.10,257.80L349.00,256.50L349.90,257.80L349.00,259.10Z M351.50,257.80L352.40,256.50L353.30,257.80L352.40,259.10Z M354.90,257.80L355.80,256.50L356.70,257.80L355.80,259.10Z M358.30,257.80L359.20,256.50L360.10,257.80L359.20,259.10Z M361.70,257.80L362.60,256.50L363.50,257.80L362.60,259.10Z M365.10,257.80L366.00,256.50L366.90,257.80L366.00,259.10Z M368.50,257.80L369.40,256.50L370.30,257.80L369.40,259.10Z M371.90,257.80L372.80,256.50L373.70,257.80L372.80,259.10Z M375.30,257.80L376.20,256.50L377.10,257.80L376.20,259.10Z M378.70,257.80L379.60,256.50L380.50,257.80L379.60,259.10Z M382.10,257.80L383.00,256.50L383.90,257.80L383.00,259.10Z M385.50,257.80L386.40,256.50L387.30,257.80L386.40,259.10Z M388.90,257.80L389.80,256.50L390.70,257.80L389.80,259.10Z" fill="#5050c0"/>
<rect x="390.8" y="256.4" width="19.50" height="2.90" fill="#0c0c90"/>
<rect x="404.2" y="267.7" width="30.10" height="6.90" fill="#0f5414"/>
<text x="325.2" y="246.5" font-size="10" font-style="italic" fill="#111">transcription start</text>
<path d="M405.5,242.5 C414,241.5 421,244 420.5,249 C420,252.5 418,254.5 416.5,255.5" stroke="#222" stroke-width="0.9" fill="none"/>
<path d="M413.4,258.6 L416,252.6 L419.4,256.4 Z" fill="#000"/>
<rect x="115.5" y="376.90" width="318.50" height="1.8" fill="#7474d6"/>
<path d="M116.60,377.80L117.50,376.40L118.40,377.80L117.50,379.20Z M119.90,377.80L120.80,376.40L121.70,377.80L120.80,379.20Z M123.20,377.80L124.10,376.40L125.00,377.80L124.10,379.20Z M126.50,377.80L127.40,376.40L128.30,377.80L127.40,379.20Z M129.80,377.80L130.70,376.40L131.60,377.80L130.70,379.20Z M133.10,377.80L134.00,376.40L134.90,377.80L134.00,379.20Z M136.40,377.80L137.30,376.40L138.20,377.80L137.30,379.20Z M139.70,377.80L140.60,376.40L141.50,377.80L140.60,379.20Z M143.00,377.80L143.90,376.40L144.80,377.80L143.90,379.20Z M146.30,377.80L147.20,376.40L148.10,377.80L147.20,379.20Z M149.60,377.80L150.50,376.40L151.40,377.80L150.50,379.20Z M152.90,377.80L153.80,376.40L154.70,377.80L153.80,379.20Z M156.20,377.80L157.10,376.40L158.00,377.80L157.10,379.20Z M159.50,377.80L160.40,376.40L161.30,377.80L160.40,379.20Z M162.80,377.80L163.70,376.40L164.60,377.80L163.70,379.20Z M166.10,377.80L167.00,376.40L167.90,377.80L167.00,379.20Z M169.40,377.80L170.30,376.40L171.20,377.80L170.30,379.20Z M172.70,377.80L173.60,376.40L174.50,377.80L173.60,379.20Z M176.00,377.80L176.90,376.40L177.80,377.80L176.90,379.20Z M179.30,377.80L180.20,376.40L181.10,377.80L180.20,379.20Z M182.60,377.80L183.50,376.40L184.40,377.80L183.50,379.20Z M185.90,377.80L186.80,376.40L187.70,377.80L186.80,379.20Z M189.20,377.80L190.10,376.40L191.00,377.80L190.10,379.20Z M192.50,377.80L193.40,376.40L194.30,377.80L193.40,379.20Z M195.80,377.80L196.70,376.40L197.60,377.80L196.70,379.20Z M199.10,377.80L200.00,376.40L200.90,377.80L200.00,379.20Z M202.40,377.80L203.30,376.40L204.20,377.80L203.30,379.20Z M205.70,377.80L206.60,376.40L207.50,377.80L206.60,379.20Z M209.00,377.80L209.90,376.40L210.80,377.80L209.90,379.20Z M212.30,377.80L213.20,376.40L214.10,377.80L213.20,379.20Z M215.60,377.80L216.50,376.40L217.40,377.80L216.50,379.20Z M218.90,377.80L219.80,376.40L220.70,377.80L219.80,379.20Z M222.20,377.80L223.10,376.40L224.00,377.80L223.10,379.20Z M225.50,377.80L226.40,376.40L227.30,377.80L226.40,379.20Z M228.80,377.80L229.70,376.40L230.60,377.80L229.70,379.20Z M232.10,377.80L233.00,376.40L233.90,377.80L233.00,379.20Z M235.40,377.80L236.30,376.40L237.20,377.80L236.30,379.20Z M238.70,377.80L239.60,376.40L240.50,377.80L239.60,379.20Z M242.00,377.80L242.90,376.40L243.80,377.80L242.90,379.20Z M245.30,377.80L246.20,376.40L247.10,377.80L246.20,379.20Z M248.60,377.80L249.50,376.40L250.40,377.80L249.50,379.20Z M251.90,377.80L252.80,376.40L253.70,377.80L252.80,379.20Z M255.20,377.80L256.10,376.40L257.00,377.80L256.10,379.20Z M258.50,377.80L259.40,376.40L260.30,377.80L259.40,379.20Z M261.80,377.80L262.70,376.40L263.60,377.80L262.70,379.20Z M265.10,377.80L266.00,376.40L266.90,377.80L266.00,379.20Z M268.40,377.80L269.30,376.40L270.20,377.80L269.30,379.20Z M271.70,377.80L272.60,376.40L273.50,377.80L272.60,379.20Z M275.00,377.80L275.90,376.40L276.80,377.80L275.90,379.20Z M278.30,377.80L279.20,376.40L280.10,377.80L279.20,379.20Z M281.60,377.80L282.50,376.40L283.40,377.80L282.50,379.20Z M284.90,377.80L285.80,376.40L286.70,377.80L285.80,379.20Z M288.20,377.80L289.10,376.40L290.00,377.80L289.10,379.20Z M291.50,377.80L292.40,376.40L293.30,377.80L292.40,379.20Z M294.80,377.80L295.70,376.40L296.60,377.80L295.70,379.20Z M298.10,377.80L299.00,376.40L299.90,377.80L299.00,379.20Z M301.40,377.80L302.30,376.40L303.20,377.80L302.30,379.20Z M304.70,377.80L305.60,376.40L306.50,377.80L305.60,379.20Z M308.00,377.80L308.90,376.40L309.80,377.80L308.90,379.20Z M311.30,377.80L312.20,376.40L313.10,377.80L312.20,379.20Z M314.60,377.80L315.50,376.40L316.40,377.80L315.50,379.20Z M317.90,377.80L318.80,376.40L319.70,377.80L318.80,379.20Z M321.20,377.80L322.10,376.40L323.00,377.80L322.10,379.20Z M324.50,377.80L325.40,376.40L326.30,377.80L325.40,379.20Z M327.80,377.80L328.70,376.40L329.60,377.80L328.70,379.20Z M331.10,377.80L332.00,376.40L332.90,377.80L332.00,379.20Z M334.40,377.80L335.30,376.40L336.20,377.80L335.30,379.20Z M337.70,377.80L338.60,376.40L339.50,377.80L338.60,379.20Z M341.00,377.80L341.90,376.40L342.80,377.80L341.90,379.20Z M344.30,377.80L345.20,376.40L346.10,377.80L345.20,379.20Z M347.60,377.80L348.50,376.40L349.40,377.80L348.50,379.20Z M350.90,377.80L351.80,376.40L352.70,377.80L351.80,379.20Z M354.20,377.80L355.10,376.40L356.00,377.80L355.10,379.20Z M357.50,377.80L358.40,376.40L359.30,377.80L358.40,379.20Z M360.80,377.80L361.70,376.40L362.60,377.80L361.70,379.20Z M364.10,377.80L365.00,376.40L365.90,377.80L365.00,379.20Z M367.40,377.80L368.30,376.40L369.20,377.80L368.30,379.20Z M370.70,377.80L371.60,376.40L372.50,377.80L371.60,379.20Z M374.00,377.80L374.90,376.40L375.80,377.80L374.90,379.20Z M377.30,377.80L378.20,376.40L379.10,377.80L378.20,379.20Z M380.60,377.80L381.50,376.40L382.40,377.80L381.50,379.20Z M383.90,377.80L384.80,376.40L385.70,377.80L384.80,379.20Z M387.20,377.80L388.10,376.40L389.00,377.80L388.10,379.20Z M390.50,377.80L391.40,376.40L392.30,377.80L391.40,379.20Z M393.80,377.80L394.70,376.40L395.60,377.80L394.70,379.20Z M397.10,377.80L398.00,376.40L398.90,377.80L398.00,379.20Z M400.40,377.80L401.30,376.40L402.20,377.80L401.30,379.20Z M403.70,377.80L404.60,376.40L405.50,377.80L404.60,379.20Z M407.00,377.80L407.90,376.40L408.80,377.80L407.90,379.20Z M410.30,377.80L411.20,376.40L412.10,377.80L411.20,379.20Z M413.60,377.80L414.50,376.40L415.40,377.80L414.50,379.20Z M416.90,377.80L417.80,376.40L418.70,377.80L417.80,379.20Z M420.20,377.80L421.10,376.40L422.00,377.80L421.10,379.20Z M423.50,377.80L424.40,376.40L425.30,377.80L424.40,379.20Z M426.80,377.80L427.70,376.40L428.60,377.80L427.70,379.20Z M430.10,377.80L431.00,376.40L431.90,377.80L431.00,379.20Z" fill="#3a3ab4"/>
<rect x="178.6" y="383.80" width="242.70" height="1.8" fill="#7474d6"/>
<path d="M179.70,384.70L180.60,383.30L181.50,384.70L180.60,386.10Z M183.00,384.70L183.90,383.30L184.80,384.70L183.90,386.10Z M186.30,384.70L187.20,383.30L188.10,384.70L187.20,386.10Z M189.60,384.70L190.50,383.30L191.40,384.70L190.50,386.10Z M192.90,384.70L193.80,383.30L194.70,384.70L193.80,386.10Z M196.20,384.70L197.10,383.30L198.00,384.70L197.10,386.10Z M199.50,384.70L200.40,383.30L201.30,384.70L200.40,386.10Z M202.80,384.70L203.70,383.30L204.60,384.70L203.70,386.10Z M206.10,384.70L207.00,383.30L207.90,384.70L207.00,386.10Z M209.40,384.70L210.30,383.30L211.20,384.70L210.30,386.10Z M212.70,384.70L213.60,383.30L214.50,384.70L213.60,386.10Z M216.00,384.70L216.90,383.30L217.80,384.70L216.90,386.10Z M219.30,384.70L220.20,383.30L221.10,384.70L220.20,386.10Z M222.60,384.70L223.50,383.30L224.40,384.70L223.50,386.10Z M225.90,384.70L226.80,383.30L227.70,384.70L226.80,386.10Z M229.20,384.70L230.10,383.30L231.00,384.70L230.10,386.10Z M232.50,384.70L233.40,383.30L234.30,384.70L233.40,386.10Z M235.80,384.70L236.70,383.30L237.60,384.70L236.70,386.10Z M239.10,384.70L240.00,383.30L240.90,384.70L240.00,386.10Z M242.40,384.70L243.30,383.30L244.20,384.70L243.30,386.10Z M245.70,384.70L246.60,383.30L247.50,384.70L246.60,386.10Z M249.00,384.70L249.90,383.30L250.80,384.70L249.90,386.10Z M252.30,384.70L253.20,383.30L254.10,384.70L253.20,386.10Z M255.60,384.70L256.50,383.30L257.40,384.70L256.50,386.10Z M258.90,384.70L259.80,383.30L260.70,384.70L259.80,386.10Z M262.20,384.70L263.10,383.30L264.00,384.70L263.10,386.10Z M265.50,384.70L266.40,383.30L267.30,384.70L266.40,386.10Z M268.80,384.70L269.70,383.30L270.60,384.70L269.70,386.10Z M272.10,384.70L273.00,383.30L273.90,384.70L273.00,386.10Z M275.40,384.70L276.30,383.30L277.20,384.70L276.30,386.10Z M278.70,384.70L279.60,383.30L280.50,384.70L279.60,386.10Z M282.00,384.70L282.90,383.30L283.80,384.70L282.90,386.10Z M285.30,384.70L286.20,383.30L287.10,384.70L286.20,386.10Z M288.60,384.70L289.50,383.30L290.40,384.70L289.50,386.10Z M291.90,384.70L292.80,383.30L293.70,384.70L292.80,386.10Z M295.20,384.70L296.10,383.30L297.00,384.70L296.10,386.10Z M298.50,384.70L299.40,383.30L300.30,384.70L299.40,386.10Z M301.80,384.70L302.70,383.30L303.60,384.70L302.70,386.10Z M305.10,384.70L306.00,383.30L306.90,384.70L306.00,386.10Z M308.40,384.70L309.30,383.30L310.20,384.70L309.30,386.10Z M311.70,384.70L312.60,383.30L313.50,384.70L312.60,386.10Z M315.00,384.70L315.90,383.30L316.80,384.70L315.90,386.10Z M318.30,384.70L319.20,383.30L320.10,384.70L319.20,386.10Z M321.60,384.70L322.50,383.30L323.40,384.70L322.50,386.10Z M324.90,384.70L325.80,383.30L326.70,384.70L325.80,386.10Z M328.20,384.70L329.10,383.30L330.00,384.70L329.10,386.10Z M331.50,384.70L332.40,383.30L333.30,384.70L332.40,386.10Z M334.80,384.70L335.70,383.30L336.60,384.70L335.70,386.10Z M338.10,384.70L339.00,383.30L339.90,384.70L339.00,386.10Z M341.40,384.70L342.30,383.30L343.20,384.70L342.30,386.10Z M344.70,384.70L345.60,383.30L346.50,384.70L345.60,386.10Z M348.00,384.70L348.90,383.30L349.80,384.70L348.90,386.10Z M351.30,384.70L352.20,383.30L353.10,384.70L352.20,386.10Z M354.60,384.70L355.50,383.30L356.40,384.70L355.50,386.10Z M357.90,384.70L358.80,383.30L359.70,384.70L358.80,386.10Z M361.20,384.70L362.10,383.30L363.00,384.70L362.10,386.10Z M364.50,384.70L365.40,383.30L366.30,384.70L365.40,386.10Z M367.80,384.70L368.70,383.30L369.60,384.70L368.70,386.10Z M371.10,384.70L372.00,383.30L372.90,384.70L372.00,386.10Z M374.40,384.70L375.30,383.30L376.20,384.70L375.30,386.10Z M377.70,384.70L378.60,383.30L379.50,384.70L378.60,386.10Z M381.00,384.70L381.90,383.30L382.80,384.70L381.90,386.10Z M384.30,384.70L385.20,383.30L386.10,384.70L385.20,386.10Z M387.60,384.70L388.50,383.30L389.40,384.70L388.50,386.10Z M390.90,384.70L391.80,383.30L392.70,384.70L391.80,386.10Z M394.20,384.70L395.10,383.30L396.00,384.70L395.10,386.10Z M397.50,384.70L398.40,383.30L399.30,384.70L398.40,386.10Z M400.80,384.70L401.70,383.30L402.60,384.70L401.70,386.10Z M404.10,384.70L405.00,383.30L405.90,384.70L405.00,386.10Z M407.40,384.70L408.30,383.30L409.20,384.70L408.30,386.10Z M410.70,384.70L411.60,383.30L412.50,384.70L411.60,386.10Z M414.00,384.70L414.90,383.30L415.80,384.70L414.90,386.10Z M417.30,384.70L418.20,383.30L419.10,384.70L418.20,386.10Z" fill="#3a3ab4"/>
<rect x="115.00" y="375" width="1.2" height="6.00" fill="#2020a0"/>
<rect x="178.00" y="375" width="1.2" height="14.00" fill="#2020a0"/>
<rect x="200.40" y="374.5" width="1.2" height="13.50" fill="#2020a0"/>
<rect x="248.60" y="374.5" width="1.2" height="13.50" fill="#2020a0"/>
<rect x="269.20" y="374.5" width="1.2" height="13.50" fill="#2020a0"/>
<rect x="324.00" y="374.5" width="1.2" height="13.50" fill="#2020a0"/>
<rect x="393.90" y="374.5" width="1.2" height="13.50" fill="#2020a0"/>
<rect x="405.00" y="374.5" width="1.2" height="13.50" fill="#2020a0"/>
<rect x="289.90" y="374.5" width="1.8" height="13.50" fill="#1010a0"/>
<rect x="414.5" y="374" width="2.50" height="7.00" fill="#1010a0"/>
<rect x="414.5" y="381.5" width="2.50" height="6.50" fill="#1010a0"/>
<rect x="420.80" y="381.5" width="1.0" height="6.50" fill="#2020a0"/>
<path d="M434,373.5 L436,373.5 L437.5,375.6 L448.6,375.6 L448.6,380.2 L437.5,380.2 L436,382 L434,382 Z" fill="#1010b0"/>
<rect x="105.5" y="395" width="22.30" height="6.20" fill="#0f5414"/>
<rect x="146.3" y="395" width="6.60" height="6.20" fill="#0f5414"/>
<rect x="167" y="395" width="13.60" height="6.20" fill="#0f5414"/>
<rect x="432" y="394.6" width="7.30" height="6.90" fill="#0f5414"/>
<text x="147.7" y="368" font-size="10" font-style="italic" fill="#111">transcription start sites</text>
<path d="M147,363.4 C142,359.5 133,359.5 127,361.5 C122,363.5 119,366 117.5,368.5" stroke="#222" stroke-width="0.9" fill="none"/>
<path d="M115.2,372 L115.8,365.6 L120.6,369.2 Z" fill="#000"/>
<path d="M157,371 C157.5,378 159.5,385 165,386.5 C168,387.3 170.5,386.8 172,386.3" stroke="#222" stroke-width="0.9" fill="none"/>
<path d="M176,385.2 L170.2,383.2 L171.6,389.2 Z" fill="#000"/>
<circle cx="420.60" cy="92.60" r="1.0" fill="#000"/>
<circle cx="421.03" cy="96.08" r="1.0" fill="#000"/>
<circle cx="421.47" cy="99.55" r="1.0" fill="#000"/>
<circle cx="421.90" cy="103.03" r="1.0" fill="#000"/>
<circle cx="422.34" cy="106.51" r="1.0" fill="#000"/>
<circle cx="422.77" cy="109.99" r="1.0" fill="#000"/>
<circle cx="423.21" cy="113.46" r="1.0" fill="#000"/>
<circle cx="423.64" cy="116.94" r="1.0" fill="#000"/>
<circle cx="424.08" cy="120.42" r="1.0" fill="#000"/>
<circle cx="424.51" cy="123.90" r="1.0" fill="#000"/>
<circle cx="424.94" cy="127.37" r="1.0" fill="#000"/>
<circle cx="425.38" cy="130.85" r="1.0" fill="#000"/>
<circle cx="425.81" cy="134.33" r="1.0" fill="#000"/>
<circle cx="426.25" cy="137.81" r="1.0" fill="#000"/>
<circle cx="426.68" cy="141.28" r="1.0" fill="#000"/>
<circle cx="427.12" cy="144.76" r="1.0" fill="#000"/>
<circle cx="427.55" cy="148.24" r="1.0" fill="#000"/>
<circle cx="427.98" cy="151.72" r="1.0" fill="#000"/>
<circle cx="428.42" cy="155.19" r="1.0" fill="#000"/>
<circle cx="428.85" cy="158.67" r="1.0" fill="#000"/>
<circle cx="429.29" cy="162.15" r="1.0" fill="#000"/>
<circle cx="429.72" cy="165.63" r="1.0" fill="#000"/>
<circle cx="430.16" cy="169.10" r="1.0" fill="#000"/>
<circle cx="430.59" cy="172.58" r="1.0" fill="#000"/>
<circle cx="431.03" cy="176.06" r="1.0" fill="#000"/>
<circle cx="431.46" cy="179.54" r="1.0" fill="#000"/>
<circle cx="431.89" cy="183.01" r="1.0" fill="#000"/>
<circle cx="432.33" cy="186.49" r="1.0" fill="#000"/>
<circle cx="432.76" cy="189.97" r="1.0" fill="#000"/>
<circle cx="433.20" cy="193.45" r="1.0" fill="#000"/>
<circle cx="433.63" cy="196.92" r="1.0" fill="#000"/>
<circle cx="434.07" cy="200.40" r="1.0" fill="#000"/>
<circle cx="434.50" cy="203.88" r="1.0" fill="#000"/>
<circle cx="434.94" cy="207.35" r="1.0" fill="#000"/>
<circle cx="435.37" cy="210.83" r="1.0" fill="#000"/>
<circle cx="435.80" cy="214.31" r="1.0" fill="#000"/>
<circle cx="436.24" cy="217.79" r="1.0" fill="#000"/>
<circle cx="436.67" cy="221.26" r="1.0" fill="#000"/>
<circle cx="437.11" cy="224.74" r="1.0" fill="#000"/>
<circle cx="437.54" cy="228.22" r="1.0" fill="#000"/>
<circle cx="437.98" cy="231.70" r="1.0" fill="#000"/>
<circle cx="438.41" cy="235.17" r="1.0" fill="#000"/>
<circle cx="438.85" cy="238.65" r="1.0" fill="#000"/>
<circle cx="439.28" cy="242.13" r="1.0" fill="#000"/>
<circle cx="439.71" cy="245.61" r="1.0" fill="#000"/>
<circle cx="440.15" cy="249.08" r="1.0" fill="#000"/>
<circle cx="440.58" cy="252.56" r="1.0" fill="#000"/>
<circle cx="441.02" cy="256.04" r="1.0" fill="#000"/>
<circle cx="441.45" cy="259.52" r="1.0" fill="#000"/>
<circle cx="441.89" cy="262.99" r="1.0" fill="#000"/>
<circle cx="442.32" cy="266.47" r="1.0" fill="#000"/>
<circle cx="442.75" cy="269.95" r="1.0" fill="#000"/>
<circle cx="443.19" cy="273.43" r="1.0" fill="#000"/>
<circle cx="443.62" cy="276.90" r="1.0" fill="#000"/>
<circle cx="444.06" cy="280.38" r="1.0" fill="#000"/>
<circle cx="444.49" cy="283.86" r="1.0" fill="#000"/>
<circle cx="444.93" cy="287.34" r="1.0" fill="#000"/>
<circle cx="445.36" cy="290.81" r="1.0" fill="#000"/>
<circle cx="445.80" cy="294.29" r="1.0" fill="#000"/>
<circle cx="446.23" cy="297.77" r="1.0" fill="#000"/>
<circle cx="446.66" cy="301.25" r="1.0" fill="#000"/>
<circle cx="447.10" cy="304.72" r="1.0" fill="#000"/>
<circle cx="447.53" cy="308.20" r="1.0" fill="#000"/>
<circle cx="447.97" cy="311.68" r="1.0" fill="#000"/>
<circle cx="448.40" cy="315.15" r="1.0" fill="#000"/>
<circle cx="448.84" cy="318.63" r="1.0" fill="#000"/>
<circle cx="449.27" cy="322.11" r="1.0" fill="#000"/>
<circle cx="449.71" cy="325.59" r="1.0" fill="#000"/>
<circle cx="450.14" cy="329.06" r="1.0" fill="#000"/>
<circle cx="450.57" cy="332.54" r="1.0" fill="#000"/>
<circle cx="451.01" cy="336.02" r="1.0" fill="#000"/>
<circle cx="451.44" cy="339.50" r="1.0" fill="#000"/>
<circle cx="451.88" cy="342.97" r="1.0" fill="#000"/>
<circle cx="452.31" cy="346.45" r="1.0" fill="#000"/>
<circle cx="452.75" cy="349.93" r="1.0" fill="#000"/>
<circle cx="453.18" cy="353.41" r="1.0" fill="#000"/>
<circle cx="453.62" cy="356.88" r="1.0" fill="#000"/>
<circle cx="454.05" cy="360.36" r="1.0" fill="#000"/>
<circle cx="454.48" cy="363.84" r="1.0" fill="#000"/>
<circle cx="454.92" cy="367.32" r="1.0" fill="#000"/>
<circle cx="455.35" cy="370.79" r="1.0" fill="#000"/>
<circle cx="455.79" cy="374.27" r="1.0" fill="#000"/>
<circle cx="456.22" cy="377.75" r="1.0" fill="#000"/>
<circle cx="456.66" cy="381.23" r="1.0" fill="#000"/>
<circle cx="457.09" cy="384.70" r="1.0" fill="#000"/>
<circle cx="457.52" cy="388.18" r="1.0" fill="#000"/>
<circle cx="457.96" cy="391.66" r="1.0" fill="#000"/>
<circle cx="458.39" cy="395.14" r="1.0" fill="#000"/>
<circle cx="458.83" cy="398.61" r="1.0" fill="#000"/>
<circle cx="459.26" cy="402.09" r="1.0" fill="#000"/>
<circle cx="459.70" cy="405.57" r="1.0" fill="#000"/>
<circle cx="460.13" cy="409.05" r="1.0" fill="#000"/>
<circle cx="460.57" cy="412.52" r="1.0" fill="#000"/>
<circle cx="461.00" cy="416.00" r="1.0" fill="#000"/>
<circle cx="452.60" cy="93.70" r="1.0" fill="#000"/>
<circle cx="453.34" cy="97.43" r="1.0" fill="#000"/>
<circle cx="454.08" cy="101.16" r="1.0" fill="#000"/>
<circle cx="454.82" cy="104.89" r="1.0" fill="#000"/>
<circle cx="455.56" cy="108.62" r="1.0" fill="#000"/>
<circle cx="456.30" cy="112.35" r="1.0" fill="#000"/>
<circle cx="457.04" cy="116.08" r="1.0" fill="#000"/>
<circle cx="457.78" cy="119.81" r="1.0" fill="#000"/>
<circle cx="458.52" cy="123.54" r="1.0" fill="#000"/>
<circle cx="459.26" cy="127.27" r="1.0" fill="#000"/>
<circle cx="460.00" cy="131.00" r="1.0" fill="#000"/>
<circle cx="420.80" cy="11.60" r="1.0" fill="#000"/>
<circle cx="424.66" cy="10.63" r="1.0" fill="#000"/>
<circle cx="428.52" cy="9.66" r="1.0" fill="#000"/>
<circle cx="432.38" cy="8.69" r="1.0" fill="#000"/>
<circle cx="436.24" cy="7.72" r="1.0" fill="#000"/>
<circle cx="440.10" cy="6.75" r="1.0" fill="#000"/>
<circle cx="443.96" cy="5.78" r="1.0" fill="#000"/>
<circle cx="447.82" cy="4.81" r="1.0" fill="#000"/>
<circle cx="451.68" cy="3.84" r="1.0" fill="#000"/>
<circle cx="455.54" cy="2.87" r="1.0" fill="#000"/>
<circle cx="459.40" cy="1.90" r="1.0" fill="#000"/>
<circle cx="456" cy="12" r="0.9" fill="#000"/>
<polygon points="463.2,41.10 463.50,39.90 467.10,39.29 467.50,25.22 468.30,21.20 469.20,20.20 470.00,20.80 470.50,25.83 471.40,26.23 471.90,36.88 472.80,36.55 473.40,29.05 474.50,27.80 475.50,33.42 476.40,37.80 477.50,37.61 479.00,37.08 481.00,37.79 483.00,38.15 485.00,37.26 487.00,36.36 489.00,35.29 490.30,33.50 491.00,26.34 491.60,24.19 493.30,22.40 494.50,24.91 495.40,29.56 496.00,37.08 496.60,27.30 497.50,23.66 499.00,22.88 500.00,24.70 501.00,21.32 502.50,16.38 503.50,14.30 504.50,18.72 505.20,33.28 505.80,38.74 507.00,32.50 508.00,33.28 509.00,36.66 510.50,38.22 512.00,37.44 513.50,35.36 514.50,36.66 515.50,39.26 516.50,40.04 516.8,41.10" fill="#f01414"/>
<rect x="463" y="39.70" width="54" height="1.4" fill="#f01414"/>
<text x="474.8" y="13.50" font-size="8.3" class="b" fill="#eef2b4" textLength="14" lengthAdjust="spacingAndGlyphs">M17</text>
<polygon points="463.2,85.30 463.50,83.86 467.10,82.90 467.50,60.50 468.30,54.10 469.20,52.50 470.00,53.46 470.50,61.46 471.40,62.10 471.90,79.06 472.80,79.85 473.40,70.55 474.50,69.00 475.50,75.97 476.40,81.40 477.50,81.20 479.00,80.54 481.00,81.42 483.00,81.86 485.00,80.76 487.00,79.66 489.00,78.34 490.30,76.14 491.00,67.34 491.60,64.70 493.30,62.50 494.50,65.58 495.40,71.30 496.00,80.54 496.60,68.00 497.50,63.38 499.00,62.39 500.00,64.70 501.00,60.41 502.50,54.14 503.50,51.50 504.50,57.11 505.20,75.59 505.80,82.52 507.00,74.60 508.00,75.59 509.00,79.88 510.50,81.86 512.00,80.87 513.50,78.23 514.50,79.88 515.50,83.18 516.50,84.17 516.8,85.30" fill="#bc36f0"/>
<rect x="463" y="83.90" width="54" height="1.4" fill="#bc36f0"/>
<text x="474.8" y="51.30" font-size="8.3" class="b" fill="#eef2b4" textLength="14" lengthAdjust="spacingAndGlyphs">M18</text>
<polygon points="463.2,127.50 463.50,126.29 467.10,125.67 467.50,111.18 468.30,107.03 469.20,106.00 470.00,106.62 470.50,111.80 471.40,112.21 471.90,123.18 472.80,121.99 473.40,112.57 474.50,111.00 475.50,118.06 476.40,123.56 477.50,124.34 479.00,123.87 481.00,124.50 483.00,124.82 485.00,124.03 487.00,123.25 489.00,122.30 490.30,120.73 491.00,114.45 491.60,112.57 493.30,111.00 494.50,113.20 495.40,117.28 496.00,123.87 496.60,115.65 497.50,112.56 499.00,111.89 500.00,113.44 501.00,110.57 502.50,106.37 503.50,104.60 504.50,108.36 505.20,120.73 505.80,125.37 507.00,120.07 508.00,120.73 509.00,123.61 510.50,124.93 512.00,124.27 513.50,122.50 514.50,123.61 515.50,125.82 516.50,126.48 516.8,127.50" fill="#6cf0d0"/>
<rect x="463" y="126.10" width="54" height="1.4" fill="#6cf0d0"/>
<text x="474.8" y="96.30" font-size="8.3" class="b" fill="#eef2b4" textLength="14" lengthAdjust="spacingAndGlyphs">M19</text>
<polygon points="463.2,175.70 463.50,174.29 467.10,173.39 467.50,152.18 468.30,146.12 469.20,144.60 470.00,145.51 470.50,153.08 471.40,153.69 471.90,169.75 472.80,169.50 473.40,158.70 474.50,156.90 475.50,165.00 476.40,171.30 477.50,171.02 479.00,170.24 481.00,171.27 483.00,171.79 485.00,170.50 487.00,169.20 489.00,167.65 490.30,165.06 491.00,154.70 491.60,151.59 493.30,149.00 494.50,152.63 495.40,159.36 496.00,170.24 496.60,156.85 497.50,151.80 499.00,150.71 500.00,153.24 501.00,148.55 502.50,141.69 503.50,138.80 504.50,144.94 505.20,165.15 505.80,172.73 507.00,164.07 508.00,165.15 509.00,169.85 510.50,172.01 512.00,170.93 513.50,168.04 514.50,169.85 515.50,173.46 516.50,174.54 516.8,175.70" fill="#f6acd8"/>
<rect x="463" y="174.30" width="54" height="1.4" fill="#f6acd8"/>
<text x="474.8" y="137.40" font-size="8.3" class="b" fill="#eef2b4" textLength="14" lengthAdjust="spacingAndGlyphs">M21</text>
<polygon points="463.2,219.70 463.50,218.17 467.10,217.08 467.50,191.60 468.30,184.32 469.20,182.50 470.00,183.59 470.50,192.69 471.40,193.42 471.90,212.71 472.80,213.17 473.40,201.71 474.50,199.80 475.50,208.40 476.40,215.08 477.50,213.34 479.00,212.22 481.00,213.71 483.00,214.45 485.00,212.59 487.00,210.74 489.00,208.51 490.30,204.80 491.00,189.96 491.60,185.51 493.30,181.80 494.50,186.99 495.40,196.64 496.00,212.22 496.60,200.35 497.50,195.16 499.00,194.04 500.00,196.64 501.00,191.82 502.50,184.77 503.50,181.80 504.50,188.11 505.20,208.88 505.80,216.67 507.00,207.77 508.00,208.88 509.00,213.71 510.50,215.93 512.00,214.82 513.50,211.85 514.50,213.71 515.50,217.42 516.50,218.53 516.8,219.70" fill="#ffa016"/>
<rect x="463" y="218.30" width="54" height="1.4" fill="#ffa016"/>
<text x="474.8" y="185.00" font-size="8.3" class="b" fill="#eef2b4" textLength="14" lengthAdjust="spacingAndGlyphs">M22</text>
<polygon points="463.2,263.80 463.50,262.49 467.10,261.71 467.50,243.72 468.30,238.59 469.20,237.30 470.00,238.07 470.50,244.50 471.40,245.01 471.90,258.63 472.80,259.19 473.40,251.57 474.50,250.30 475.50,256.01 476.40,260.46 477.50,260.00 479.00,259.40 481.00,260.20 483.00,260.60 485.00,259.60 487.00,258.60 489.00,257.40 490.30,255.40 491.00,247.40 491.60,245.00 493.30,243.00 494.50,245.80 495.40,251.00 496.00,259.40 496.60,248.70 497.50,244.70 499.00,243.84 500.00,245.84 501.00,242.12 502.50,236.69 503.50,234.40 504.50,239.26 505.20,255.28 505.80,261.28 507.00,254.42 508.00,255.28 509.00,259.00 510.50,260.71 512.00,259.85 513.50,257.57 514.50,259.00 515.50,261.86 516.50,262.71 516.8,263.80" fill="#62ee22"/>
<rect x="463" y="262.40" width="54" height="1.4" fill="#62ee22"/>
<text x="474.8" y="230.70" font-size="8.3" class="b" fill="#eef2b4" textLength="14" lengthAdjust="spacingAndGlyphs">M23</text>
<polygon points="463.2,306.10 463.50,304.79 467.10,304.04 467.50,286.32 468.30,281.26 469.20,280.00 470.00,280.76 470.50,287.08 471.40,287.59 471.90,301.00 472.80,298.79 473.40,285.77 474.50,283.60 475.50,293.37 476.40,300.96 477.50,300.86 479.00,299.97 481.00,301.16 483.00,301.75 485.00,300.27 487.00,298.79 489.00,297.01 490.30,294.05 491.00,282.21 491.60,278.66 493.30,275.70 494.50,279.84 495.40,287.54 496.00,299.97 496.60,289.40 497.50,284.95 499.00,283.99 500.00,286.22 501.00,282.09 502.50,276.04 503.50,273.50 504.50,278.91 505.20,296.71 505.80,303.39 507.00,295.76 508.00,296.71 509.00,300.85 510.50,302.76 512.00,301.80 513.50,299.26 514.50,300.85 515.50,304.03 516.50,304.98 516.8,306.10" fill="#f0f820"/>
<rect x="463" y="304.70" width="54" height="1.4" fill="#f0f820"/>
<text x="474.8" y="273.50" font-size="8.3" class="b" fill="#eef2b4" textLength="14" lengthAdjust="spacingAndGlyphs">M24</text>
<polygon points="463.2,357.50 463.50,355.97 467.10,354.88 467.50,329.32 468.30,322.02 469.20,320.20 470.00,321.29 470.50,330.42 471.40,331.15 471.90,350.50 472.80,353.49 473.40,347.07 474.50,346.00 475.50,350.81 476.40,354.56 477.50,353.93 479.00,353.37 481.00,354.11 483.00,354.48 485.00,353.56 487.00,352.63 489.00,351.52 490.30,349.67 491.00,342.27 491.60,340.05 493.30,338.20 494.50,340.79 495.40,345.60 496.00,353.37 496.60,344.90 497.50,341.60 499.00,340.89 500.00,342.54 501.00,339.47 502.50,334.99 503.50,333.10 504.50,337.11 505.20,350.33 505.80,355.28 507.00,349.62 508.00,350.33 509.00,353.40 510.50,354.81 512.00,354.10 513.50,352.22 514.50,353.40 515.50,355.76 516.50,356.46 516.8,357.50" fill="#f01414"/>
<rect x="463" y="356.10" width="54" height="1.4" fill="#f01414"/>
<text x="474.8" y="317.90" font-size="8.3" class="b" fill="#eef2b4" textLength="14" lengthAdjust="spacingAndGlyphs">M25</text>
<polygon points="463.5,394.6 464.00,392.51 465.10,392.15 466.20,392.36 467.30,392.08 468.40,392.05 469.50,392.72 470.60,392.78 471.70,391.80 472.80,392.49 473.90,391.02 475.00,390.11 476.10,392.24 477.20,391.80 478.30,392.23 479.40,392.03 480.50,392.62 481.60,392.04 482.70,391.76 483.80,392.17 484.90,391.91 486.00,391.99 487.10,392.72 488.20,391.89 489.30,392.09 490.40,392.44 491.50,392.76 492.60,391.76 493.70,392.23 494.80,391.94 495.90,391.75 497.00,391.94 498.10,391.69 499.20,392.33 500.30,390.34 501.40,390.77 502.50,390.18 503.60,390.25 504.70,392.68 505.80,392.64 506.90,392.54 508.00,391.64 509.10,392.28 510.20,392.05 511.30,392.44 512.40,392.19 513.50,392.34 514.60,392.38 515.70,392.10 516,394.6" fill="#7aeecc"/>
<rect x="463.5" y="393" width="53" height="1.6" fill="#7aeecc"/>
<text x="479.4" y="376.8" font-size="8.3" class="b" fill="#e8ecb0">C</text>
<text x="64.8" y="54" font-size="10" class="b" text-anchor="middle" fill="#111" >Average hypo-</text>
<text x="64.8" y="66.5" font-size="10" class="b" text-anchor="middle" fill="#111" >methylation</text>
<text x="101.8" y="117.8" font-size="10" class="b" text-anchor="end" fill="#111" >BCR</text>
<text x="102.1" y="147.8" font-size="11.4" class="b" text-anchor="end" fill="#111" >CpG Islands</text>
<text x="102.3" y="21.8" font-size="8.9" class="ser" text-anchor="end" fill="#333" stroke="#333" stroke-width="0.2">120</text>
<text x="100.4" y="88.6" font-size="8.5" class="" text-anchor="end" fill="#333" >40</text>
<text x="62.2" y="193.8" font-size="9.8" class="b" text-anchor="middle" fill="#111" >Average hypo-</text>
<text x="62.9" y="206.5" font-size="9.8" class="b" text-anchor="middle" fill="#111" >methylation</text>
<text x="102.6" y="260.6" font-size="10.5" class="b" text-anchor="end" fill="#111" >C21orf55</text>
<text x="102.1" y="272.7" font-size="11.4" class="b" text-anchor="end" fill="#111" >CpG Islands</text>
<text x="102.3" y="168.8" font-size="8.9" class="ser" text-anchor="end" fill="#333" stroke="#333" stroke-width="0.2">120</text>
<text x="100.2" y="233" font-size="8.5" class="" text-anchor="end" fill="#333" >40</text>
<text x="64.6" y="321.7" font-size="10" class="b" text-anchor="middle" fill="#111" >Average hypo-</text>
<text x="64.6" y="333" font-size="10" class="b" text-anchor="middle" fill="#111" >methylation</text>
<text x="101.1" y="381.3" font-size="10" class="b" text-anchor="end" fill="#111" >SIM2</text>
<text x="100.1" y="399.8" font-size="11.4" class="b" text-anchor="end" fill="#111" >CpG Islands</text>
<text x="102.3" y="289.8" font-size="8.9" class="ser" text-anchor="end" fill="#333" stroke="#333" stroke-width="0.2">120</text>
<text x="100" y="355" font-size="8.5" class="" text-anchor="end" fill="#333" >40</text>
<rect x="254.5" y="13" width="36" height="18" fill="#fff"/>
<text x="258" y="26.2" font-size="13" class="b" fill="#111">BCR</text>
<rect x="257.2" y="27.6" width="29.3" height="1" fill="#333"/>
<rect x="240" y="160" width="68" height="16" fill="#fff"/>
<text x="243.7" y="172" font-size="14" class="b" fill="#111">C21orf55</text>
<rect x="243.5" y="172.9" width="61" height="1" fill="#333"/>
<rect x="258" y="280" width="39" height="17" fill="#fff"/>
<text x="261.3" y="292.6" font-size="13.8" class="b" fill="#111">SIM2</text>
<rect x="261" y="293.9" width="33" height="1" fill="#333"/>
<ellipse cx="11.5" cy="21.0" rx="10.3" ry="9.7" fill="#fff" stroke="#000" stroke-width="1.4"/>
<text x="11.5" y="26.5" font-size="16.2" text-anchor="middle" fill="#000" stroke="#000" stroke-width="0.55" stroke-linejoin="round">A</text>
<ellipse cx="11.6" cy="165.6" rx="10.6" ry="10.2" fill="#fff" stroke="#000" stroke-width="1.4"/>
<text x="12.0" y="171.6" font-size="16.5" class="b" text-anchor="middle" fill="#000">B</text>
<ellipse cx="11.6" cy="290.1" rx="10.6" ry="10.1" fill="#fff" stroke="#000" stroke-width="1.4"/>
<text x="12.0" y="296.1" font-size="16.5" class="b" text-anchor="middle" fill="#000">C</text>
</svg></body></html>
